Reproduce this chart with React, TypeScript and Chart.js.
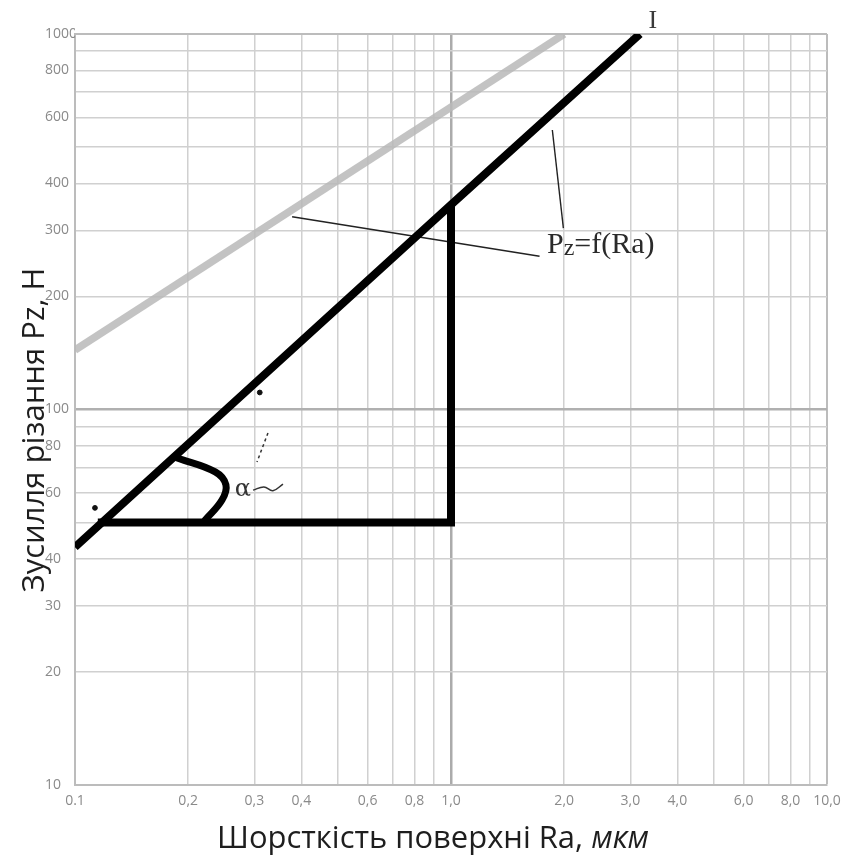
import { useEffect, useRef } from 'react';
import { Chart, registerables } from 'chart.js';

Chart.register(...registerables);

// ---- data (Ra in µm, Pz in N) ----
const xGridValues = [0.1, 0.2, 0.3, 0.4, 0.5, 0.6, 0.7, 0.8, 0.9, 1, 2, 3, 4, 5, 6, 7, 8, 9, 10];
const xLabelValues = [0.1, 0.2, 0.3, 0.4, 0.6, 0.8, 1, 2, 3, 4, 6, 8, 10];
const xLabelTexts = ['0.1', '0,2', '0,3', '0,4', '0,6', '0,8', '1,0', '2,0', '3,0', '4,0', '6,0', '8,0', '10,0'];

const yGridValues = [10, 20, 30, 40, 50, 60, 70, 80, 90, 100, 200, 300, 400, 500, 600, 700, 800, 900, 1000];
const yLabelValues = [10, 20, 30, 40, 60, 80, 100, 200, 300, 400, 600, 800, 1000];
const yLabelTexts = ['10', '20', '30', '40', '60', '80', '100', '200', '300', '400', '600', '800', '1000'];

// black line I : Pz = f(Ra)
const raLineI = [0.1, 1.0, 3.18];
const pzLineI = [43, 351, 1000];
// grey line
const raLineGrey = [0.1, 2.0];
const pzLineGrey = [144, 1000];
// triangle legs
const raLegs = [0.115, 1.0, 1.0];
const pzLegs = [50, 50, 355];
// angle arc
const raArc = [0.187, 0.236, 0.252, 0.246, 0.222];
const pzArc = [74.3, 68.2, 63.0, 57.4, 50.8];
// leader lines to the "Pz=f(Ra)" label
const raLeaderA = [0.378, 1.72];
const pzLeaderA = [326, 256];
const raLeaderB = [1.86, 1.99];
const pzLeaderB = [555, 304];
// alpha marks
const raAlphaTail = [0.2975, 0.318, 0.336, 0.3574];
const pzAlphaTail = [61.0, 62.2, 60.8, 63.3];
const raAlphaDash = [0.326, 0.3048];
const pzAlphaDash = [86.6, 72.5];
// stray dots
const raDots = [0.113, 0.31];
const pzDots = [54.7, 111];

// text annotations
const labelFormula = { ra: 1.8, pz: 261 };
const labelI = { ra: 3.44, pz: 1038 };
const labelAlpha = { ra: 0.2797, pz: 61 };

const pts = (xs: number[], ys: number[]) => xs.map((x, i) => ({ x, y: ys[i] }));

const TITLE_FONT = '"Open Sans", "Noto Sans", sans-serif';

const textPlugin = {
  id: 'texts',
  afterDraw(chart: any) {
    const { ctx } = chart;
    const xs = chart.scales.x;
    const ys = chart.scales.y;
    ctx.save();

    // ---- X title ----
    const xMain = 'Шорсткість поверхні Ra, ';
    const xIt = 'мкм';
    ctx.font = `400 100px ${TITLE_FONT}`;
    const w1 = ctx.measureText(xMain).width;
    ctx.font = `italic 400 100px ${TITLE_FONT}`;
    const w2 = ctx.measureText(xIt).width;
    const xSize = (100 * 432) / (w1 + w2);
    const xTotal = ((w1 + w2) * xSize) / 100;
    const xStart = 433 - xTotal / 2;
    ctx.fillStyle = '#1e1e1e';
    ctx.textBaseline = 'alphabetic';
    ctx.textAlign = 'left';
    ctx.font = `400 ${xSize}px ${TITLE_FONT}`;
    ctx.fillText(xMain, xStart, 848);
    ctx.font = `italic 400 ${xSize}px ${TITLE_FONT}`;
    ctx.fillText(xIt, xStart + (w1 * xSize) / 100, 848);

    // ---- Y title ----
    const yTitle = 'Зусилля різання Pz, Н';
    ctx.font = `400 100px ${TITLE_FONT}`;
    const wy = ctx.measureText(yTitle).width;
    const ySize = (100 * 325) / wy;
    ctx.save();
    ctx.translate(44, 430);
    ctx.rotate(-Math.PI / 2);
    ctx.textAlign = 'center';
    ctx.font = `400 ${ySize}px ${TITLE_FONT}`;
    ctx.fillText(yTitle, 0, 0);
    ctx.restore();

    // ---- formula label ----
    const fx = xs.getPixelForValue(labelFormula.ra);
    const fy = ys.getPixelForValue(labelFormula.pz);
    ctx.fillStyle = '#2a2a2a';
    ctx.textAlign = 'left';
    ctx.font = `30px "Liberation Serif", serif`;
    ctx.fillText('P', fx, fy);
    let cx = fx + ctx.measureText('P').width;
    ctx.font = `24px "Liberation Serif", serif`;
    ctx.fillText('z', cx, fy + 2);
    cx += ctx.measureText('z').width;
    ctx.font = `30px "Liberation Serif", serif`;
    ctx.fillText('=f(Ra)', cx, fy);

    // ---- "I" ----
    ctx.textAlign = 'center';
    ctx.font = `26px "Liberation Serif", serif`;
    ctx.fillStyle = '#3a3a3a';
    ctx.fillText('I', xs.getPixelForValue(labelI.ra), ys.getPixelForValue(labelI.pz));

    // ---- alpha ----
    ctx.font = `24px "DejaVu Serif", serif`;
    ctx.fillStyle = '#333';
    ctx.textBaseline = 'middle';
    ctx.fillText('α', xs.getPixelForValue(labelAlpha.ra), ys.getPixelForValue(labelAlpha.pz));

    ctx.restore();
  },
};

export default function App() {
  const canvasRef = useRef<HTMLCanvasElement | null>(null);

  useEffect(() => {
    const canvas = canvasRef.current;
    if (!canvas) return;

    const xMap = new Map(xLabelValues.map((v, i) => [v, xLabelTexts[i]]));
    const yMap = new Map(yLabelValues.map((v, i) => [v, yLabelTexts[i]]));

    const chart = new Chart(canvas, {
      type: 'scatter',
      data: {
        datasets: [
          {
            label: 'grey',
            data: pts(raLineGrey, pzLineGrey),
            showLine: true,
            borderColor: 'rgba(185,185,185,0.85)',
            borderWidth: 7.5,
            pointRadius: 0,
            borderCapStyle: 'butt',
          },
          {
            label: 'I',
            data: pts(raLineI, pzLineI),
            showLine: true,
            borderColor: '#000',
            borderWidth: 8,
            pointRadius: 0,
          },
          {
            label: 'legs',
            data: pts(raLegs, pzLegs),
            showLine: true,
            borderColor: '#000',
            borderWidth: 8,
            pointRadius: 0,
            borderJoinStyle: 'miter',
            borderCapStyle: 'butt',
          },
          {
            label: 'arc',
            data: pts(raArc, pzArc),
            showLine: true,
            borderColor: '#000',
            borderWidth: 7,
            pointRadius: 0,
            tension: 0.4,
            borderCapStyle: 'round',
          },
          {
            label: 'leaderA',
            data: pts(raLeaderA, pzLeaderA),
            showLine: true,
            borderColor: '#222',
            borderWidth: 1.4,
            pointRadius: 0,
          },
          {
            label: 'leaderB',
            data: pts(raLeaderB, pzLeaderB),
            showLine: true,
            borderColor: '#222',
            borderWidth: 1.4,
            pointRadius: 0,
          },
          {
            label: 'alphaTail',
            data: pts(raAlphaTail, pzAlphaTail),
            showLine: true,
            borderColor: '#333',
            borderWidth: 1.5,
            pointRadius: 0,
            tension: 0.4,
          },
          {
            label: 'alphaDash',
            data: pts(raAlphaDash, pzAlphaDash),
            showLine: true,
            borderColor: '#333',
            borderWidth: 1.5,
            borderDash: [3, 3],
            pointRadius: 0,
          },
          {
            label: 'dots',
            data: pts(raDots, pzDots),
            showLine: false,
            backgroundColor: '#111',
            borderColor: '#111',
            pointRadius: 2.4,
          },
        ],
      },
      options: {
        responsive: false,
        animation: false,
        devicePixelRatio: 1,
        layout: { padding: { left: 45, right: 24, top: 34, bottom: 0 } },
        plugins: {
          legend: { display: false },
          tooltip: { enabled: false },
          title: { display: false },
        },
        scales: {
          x: {
            type: 'logarithmic',
            min: 0.1,
            max: 10,
            afterBuildTicks: (scale: any) => {
              scale.ticks = xGridValues.map((v) => ({ value: v }));
            },
            afterFit: (scale: any) => {
              scale.height = 81;
            },
            ticks: {
              autoSkip: false,
              maxRotation: 0,
              minRotation: 0,
              padding: 8,
              color: '#8a8a8a',
              font: { family: '"Open Sans", sans-serif', size: 14 },
              callback: (v: any) => xMap.get(Number(v)) ?? '',
            },
            grid: {
              drawTicks: false,
              color: (c: any) => {
                const v = c.tick?.value;
                if (v === 1) return '#ababab';
                if (v === 10) return '#bcbcbc';
                return '#d0d0d0';
              },
              lineWidth: (c: any) => {
                const v = c.tick?.value;
                if (v === 1) return 2.5;
                if (v === 10) return 2;
                return 1.5;
              },
            },
            border: { display: true, color: '#bcbcbc', width: 2 },
          },
          y: {
            type: 'logarithmic',
            min: 10,
            max: 1000,
            afterBuildTicks: (scale: any) => {
              scale.ticks = yGridValues.map((v) => ({ value: v }));
            },
            afterFit: (scale: any) => {
              scale.width = 30;
            },
            ticks: {
              autoSkip: false,
              crossAlign: 'far',
              padding: 4,
              color: '#8a8a8a',
              font: { family: '"Open Sans", sans-serif', size: 14 },
              callback: (v: any) => yMap.get(Number(v)) ?? '',
            },
            grid: {
              drawTicks: false,
              color: (c: any) => {
                const v = c.tick?.value;
                if (v === 100) return '#b0b0b0';
                if (v === 1000) return '#bcbcbc';
                return '#d0d0d0';
              },
              lineWidth: (c: any) => {
                const v = c.tick?.value;
                if (v === 100) return 2.5;
                if (v === 1000) return 2;
                return 1.5;
              },
            },
            border: { display: true, color: '#bcbcbc', width: 2 },
          },
        },
      },
      plugins: [textPlugin],
    } as any);

    return () => chart.destroy();
  }, []);

  return (
    <div style={{ position: 'absolute', left: 0, top: 0, width: 851, height: 866, background: '#fff' }}>
      <canvas ref={canvasRef} width={851} height={866} style={{ display: 'block', width: 851, height: 866 }} />
    </div>
  );
}
